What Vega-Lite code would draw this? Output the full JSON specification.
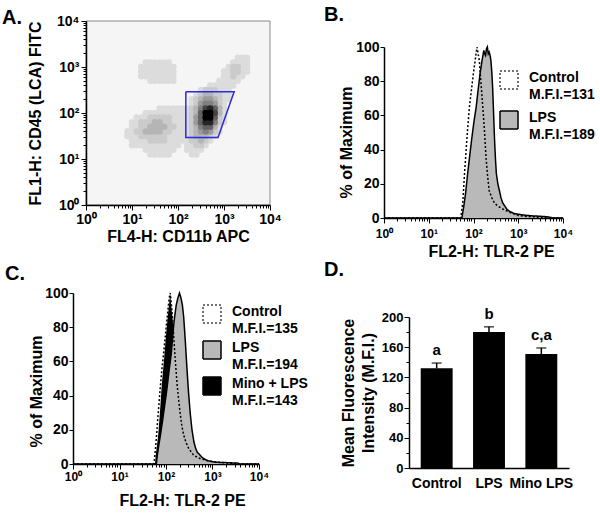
{
"$schema": "https://vega.github.io/schema/vega-lite/v6.json",
"background": "white",
"padding": {"left": 2, "top": 5, "right": 5, "bottom": 5},
"datasets": {
"frame": [{"u": 0, "v": 0, "u1": 4, "v1": 4}],
"dens": [
{"u":2.3,"v":1.1,"d":1},{"u":2.4,"v":1.1,"d":1},
{"u":2.2,"v":1.2,"d":1},{"u":2.3,"v":1.2,"d":1},{"u":2.4,"v":1.2,"d":1},{"u":2.5,"v":1.2,"d":1},
{"u":2.2,"v":1.3,"d":1},{"u":2.3,"v":1.3,"d":1},{"u":2.4,"v":1.3,"d":2},{"u":2.5,"v":1.3,"d":2},{"u":2.6,"v":1.3,"d":1},
{"u":2.2,"v":1.4,"d":1},{"u":2.3,"v":1.4,"d":2},{"u":2.4,"v":1.4,"d":2},{"u":2.5,"v":1.4,"d":3},{"u":2.6,"v":1.4,"d":2},{"u":2.7,"v":1.4,"d":1},
{"u":2.2,"v":1.5,"d":1},{"u":2.3,"v":1.5,"d":2},{"u":2.4,"v":1.5,"d":3},{"u":2.5,"v":1.5,"d":3},{"u":2.6,"v":1.5,"d":3},{"u":2.7,"v":1.5,"d":2},{"u":2.8,"v":1.5,"d":1},
{"u":2.2,"v":1.6,"d":1},{"u":2.3,"v":1.6,"d":2},{"u":2.4,"v":1.6,"d":3},{"u":2.5,"v":1.6,"d":4},{"u":2.6,"v":1.6,"d":5},{"u":2.7,"v":1.6,"d":4},{"u":2.8,"v":1.6,"d":2},{"u":2.9,"v":1.6,"d":1},
{"u":2.2,"v":1.7,"d":1},{"u":2.3,"v":1.7,"d":2},{"u":2.4,"v":1.7,"d":3},{"u":2.5,"v":1.7,"d":5},{"u":2.6,"v":1.7,"d":6},{"u":2.7,"v":1.7,"d":6},{"u":2.8,"v":1.7,"d":3},{"u":2.9,"v":1.7,"d":1},
{"u":2.2,"v":1.8,"d":1},{"u":2.3,"v":1.8,"d":2},{"u":2.4,"v":1.8,"d":4},{"u":2.5,"v":1.8,"d":6},{"u":2.6,"v":1.8,"d":8},{"u":2.7,"v":1.8,"d":8},{"u":2.8,"v":1.8,"d":5},{"u":2.9,"v":1.8,"d":2},{"u":3.0,"v":1.8,"d":1},
{"u":2.2,"v":1.9,"d":1},{"u":2.3,"v":1.9,"d":2},{"u":2.4,"v":1.9,"d":4},{"u":2.5,"v":1.9,"d":6},{"u":2.6,"v":1.9,"d":9},{"u":2.7,"v":1.9,"d":9},{"u":2.8,"v":1.9,"d":6},{"u":2.9,"v":1.9,"d":2},{"u":3.0,"v":1.9,"d":1},
{"u":2.2,"v":2.0,"d":1},{"u":2.3,"v":2.0,"d":2},{"u":2.4,"v":2.0,"d":3},{"u":2.5,"v":2.0,"d":6},{"u":2.6,"v":2.0,"d":9},{"u":2.7,"v":2.0,"d":9},{"u":2.8,"v":2.0,"d":7},{"u":2.9,"v":2.0,"d":3},{"u":3.0,"v":2.0,"d":1},
{"u":2.2,"v":2.1,"d":1},{"u":2.3,"v":2.1,"d":2},{"u":2.4,"v":2.1,"d":3},{"u":2.5,"v":2.1,"d":5},{"u":2.6,"v":2.1,"d":7},{"u":2.7,"v":2.1,"d":8},{"u":2.8,"v":2.1,"d":6},{"u":2.9,"v":2.1,"d":3},{"u":3.0,"v":2.1,"d":1},
{"u":2.3,"v":2.2,"d":1},{"u":2.4,"v":2.2,"d":2},{"u":2.5,"v":2.2,"d":4},{"u":2.6,"v":2.2,"d":5},{"u":2.7,"v":2.2,"d":5},{"u":2.8,"v":2.2,"d":4},{"u":2.9,"v":2.2,"d":2},{"u":3.0,"v":2.2,"d":1},
{"u":2.3,"v":2.3,"d":1},{"u":2.4,"v":2.3,"d":2},{"u":2.5,"v":2.3,"d":3},{"u":2.6,"v":2.3,"d":4},{"u":2.7,"v":2.3,"d":4},{"u":2.8,"v":2.3,"d":3},{"u":2.9,"v":2.3,"d":2},{"u":3.0,"v":2.3,"d":1},{"u":3.1,"v":2.3,"d":1},
{"u":2.4,"v":2.4,"d":1},{"u":2.5,"v":2.4,"d":2},{"u":2.6,"v":2.4,"d":3},{"u":2.7,"v":2.4,"d":3},{"u":2.8,"v":2.4,"d":2},{"u":2.9,"v":2.4,"d":2},{"u":3.0,"v":2.4,"d":1},{"u":3.1,"v":2.4,"d":1},
{"u":2.5,"v":2.5,"d":1},{"u":2.6,"v":2.5,"d":2},{"u":2.7,"v":2.5,"d":2},{"u":2.8,"v":2.5,"d":2},{"u":2.9,"v":2.5,"d":1},{"u":3.0,"v":2.5,"d":1},{"u":3.1,"v":2.5,"d":1},
{"u":2.7,"v":2.6,"d":1},{"u":2.8,"v":2.6,"d":1},{"u":2.9,"v":2.6,"d":1},{"u":3.0,"v":2.6,"d":1},{"u":3.1,"v":2.6,"d":1},{"u":3.2,"v":2.6,"d":1},
{"u":2.9,"v":2.7,"d":1},{"u":3.0,"v":2.7,"d":1},{"u":3.1,"v":2.7,"d":1},{"u":3.2,"v":2.7,"d":1},{"u":3.3,"v":2.7,"d":1},
{"u":3.0,"v":2.8,"d":1},{"u":3.1,"v":2.8,"d":1},{"u":3.2,"v":2.8,"d":2},{"u":3.3,"v":2.8,"d":1},{"u":3.4,"v":2.8,"d":1},
{"u":3.0,"v":2.9,"d":1},{"u":3.1,"v":2.9,"d":1},{"u":3.2,"v":2.9,"d":2},{"u":3.3,"v":2.9,"d":2},{"u":3.4,"v":2.9,"d":1},{"u":3.5,"v":2.9,"d":1},
{"u":3.1,"v":3.0,"d":1},{"u":3.2,"v":3.0,"d":2},{"u":3.3,"v":3.0,"d":2},{"u":3.4,"v":3.0,"d":1},{"u":3.5,"v":3.0,"d":1},
{"u":3.2,"v":3.1,"d":1},{"u":3.3,"v":3.1,"d":1},{"u":3.4,"v":3.1,"d":1},{"u":3.5,"v":3.1,"d":1},
{"u":3.3,"v":3.2,"d":1},{"u":3.4,"v":3.2,"d":1},{"u":3.5,"v":3.2,"d":1},
{"u":1.6,"v":2.1,"d":1},{"u":1.7,"v":2.1,"d":1},{"u":1.8,"v":2.1,"d":1},{"u":1.9,"v":2.1,"d":1},{"u":2.0,"v":2.1,"d":1},{"u":2.1,"v":2.1,"d":1},
{"u":1.3,"v":2.0,"d":1},{"u":1.4,"v":2.0,"d":1},{"u":1.5,"v":2.0,"d":1},{"u":1.6,"v":2.0,"d":1},{"u":1.7,"v":2.0,"d":1},{"u":1.8,"v":2.0,"d":1},{"u":1.9,"v":2.0,"d":1},{"u":2.0,"v":2.0,"d":1},{"u":2.1,"v":2.0,"d":1},
{"u":1.1,"v":1.9,"d":1},{"u":1.2,"v":1.9,"d":1},{"u":1.3,"v":1.9,"d":1},{"u":1.4,"v":1.9,"d":2},{"u":1.5,"v":1.9,"d":2},{"u":1.6,"v":1.9,"d":2},{"u":1.7,"v":1.9,"d":2},{"u":1.8,"v":1.9,"d":2},{"u":1.9,"v":1.9,"d":1},{"u":2.0,"v":1.9,"d":1},{"u":2.1,"v":1.9,"d":1},
{"u":1.0,"v":1.8,"d":1},{"u":1.1,"v":1.8,"d":1},{"u":1.2,"v":1.8,"d":2},{"u":1.3,"v":1.8,"d":2},{"u":1.4,"v":1.8,"d":2},{"u":1.5,"v":1.8,"d":3},{"u":1.6,"v":1.8,"d":3},{"u":1.7,"v":1.8,"d":2},{"u":1.8,"v":1.8,"d":2},{"u":1.9,"v":1.8,"d":1},{"u":2.0,"v":1.8,"d":1},{"u":2.1,"v":1.8,"d":1},
{"u":1.0,"v":1.7,"d":1},{"u":1.1,"v":1.7,"d":1},{"u":1.2,"v":1.7,"d":2},{"u":1.3,"v":1.7,"d":2},{"u":1.4,"v":1.7,"d":3},{"u":1.5,"v":1.7,"d":3},{"u":1.6,"v":1.7,"d":3},{"u":1.7,"v":1.7,"d":3},{"u":1.8,"v":1.7,"d":2},{"u":1.9,"v":1.7,"d":2},{"u":2.0,"v":1.7,"d":1},{"u":2.1,"v":1.7,"d":1},
{"u":0.9,"v":1.6,"d":1},{"u":1.0,"v":1.6,"d":1},{"u":1.1,"v":1.6,"d":2},{"u":1.2,"v":1.6,"d":2},{"u":1.3,"v":1.6,"d":3},{"u":1.4,"v":1.6,"d":3},{"u":1.5,"v":1.6,"d":3},{"u":1.6,"v":1.6,"d":3},{"u":1.7,"v":1.6,"d":2},{"u":1.8,"v":1.6,"d":2},{"u":1.9,"v":1.6,"d":1},{"u":2.0,"v":1.6,"d":1},{"u":2.1,"v":1.6,"d":1},
{"u":0.9,"v":1.5,"d":1},{"u":1.0,"v":1.5,"d":1},{"u":1.1,"v":1.5,"d":1},{"u":1.2,"v":1.5,"d":2},{"u":1.3,"v":1.5,"d":2},{"u":1.4,"v":1.5,"d":2},{"u":1.5,"v":1.5,"d":2},{"u":1.6,"v":1.5,"d":2},{"u":1.7,"v":1.5,"d":2},{"u":1.8,"v":1.5,"d":1},{"u":1.9,"v":1.5,"d":1},{"u":2.0,"v":1.5,"d":1},{"u":2.1,"v":1.5,"d":1},
{"u":1.0,"v":1.4,"d":1},{"u":1.1,"v":1.4,"d":1},{"u":1.2,"v":1.4,"d":1},{"u":1.3,"v":1.4,"d":1},{"u":1.4,"v":1.4,"d":2},{"u":1.5,"v":1.4,"d":2},{"u":1.6,"v":1.4,"d":2},{"u":1.7,"v":1.4,"d":2},{"u":1.8,"v":1.4,"d":1},{"u":1.9,"v":1.4,"d":1},{"u":2.0,"v":1.4,"d":1},{"u":2.1,"v":1.4,"d":1},
{"u":1.0,"v":1.3,"d":1},{"u":1.1,"v":1.3,"d":1},{"u":1.2,"v":1.3,"d":1},{"u":1.3,"v":1.3,"d":1},{"u":1.4,"v":1.3,"d":1},{"u":1.5,"v":1.3,"d":1},{"u":1.6,"v":1.3,"d":1},{"u":1.7,"v":1.3,"d":1},{"u":1.8,"v":1.3,"d":1},{"u":1.9,"v":1.3,"d":1},{"u":2.0,"v":1.3,"d":1},
{"u":1.3,"v":1.2,"d":1},{"u":1.4,"v":1.2,"d":1},{"u":1.5,"v":1.2,"d":1},{"u":1.6,"v":1.2,"d":1},{"u":1.7,"v":1.2,"d":1},{"u":1.8,"v":1.2,"d":1},{"u":1.9,"v":1.2,"d":1},
{"u":1.4,"v":1.1,"d":1},{"u":1.5,"v":1.1,"d":1},{"u":1.6,"v":1.1,"d":1},{"u":1.7,"v":1.1,"d":1},{"u":1.8,"v":1.1,"d":1},
{"u":1.3,"v":3.1,"d":1},{"u":1.4,"v":3.1,"d":1},{"u":1.5,"v":3.1,"d":1},{"u":1.6,"v":3.1,"d":1},{"u":1.7,"v":3.1,"d":1},{"u":1.8,"v":3.1,"d":1},
{"u":1.2,"v":3.0,"d":1},{"u":1.3,"v":3.0,"d":1},{"u":1.4,"v":3.0,"d":1},{"u":1.5,"v":3.0,"d":1},{"u":1.6,"v":3.0,"d":1},{"u":1.7,"v":3.0,"d":1},{"u":1.8,"v":3.0,"d":1},{"u":1.9,"v":3.0,"d":1},
{"u":1.2,"v":2.9,"d":1},{"u":1.3,"v":2.9,"d":1},{"u":1.4,"v":2.9,"d":1},{"u":1.5,"v":2.9,"d":1},{"u":1.6,"v":2.9,"d":1},{"u":1.7,"v":2.9,"d":1},{"u":1.8,"v":2.9,"d":1},{"u":1.9,"v":2.9,"d":1},
{"u":1.2,"v":2.8,"d":1},{"u":1.3,"v":2.8,"d":1},{"u":1.4,"v":2.8,"d":1},{"u":1.5,"v":2.8,"d":1},{"u":1.6,"v":2.8,"d":1},{"u":1.7,"v":2.8,"d":1},{"u":1.8,"v":2.8,"d":1},{"u":1.9,"v":2.8,"d":1},
{"u":1.4,"v":2.7,"d":1},{"u":1.5,"v":2.7,"d":1},{"u":1.6,"v":2.7,"d":1},{"u":1.7,"v":2.7,"d":1},{"u":1.8,"v":2.7,"d":1},{"u":1.9,"v":2.7,"d":1}
],
"gate": [
{"u":2.17,"v":2.46,"o":1},{"u":3.22,"v":2.46,"o":2},{"u":2.87,"v":1.47,"o":3},{"u":2.17,"v":1.47,"o":4},{"u":2.17,"v":2.46,"o":5}
],
"histB": [
{"s":"LPS","x":1,"y":0},{"s":"LPS","x":55,"y":0},{"s":"LPS","x":60,"y":6},{"s":"LPS","x":67,"y":15},{"s":"LPS","x":74,"y":26},{"s":"LPS","x":82,"y":36},{"s":"LPS","x":91,"y":46},{"s":"LPS","x":102,"y":56},{"s":"LPS","x":115,"y":65},{"s":"LPS","x":127,"y":75},{"s":"LPS","x":141,"y":85},{"s":"LPS","x":155,"y":92},{"s":"LPS","x":170,"y":98},{"s":"LPS","x":178,"y":96},{"s":"LPS","x":186,"y":95},{"s":"LPS","x":195,"y":99},{"s":"LPS","x":204,"y":100},{"s":"LPS","x":214,"y":96},{"s":"LPS","x":224,"y":97},{"s":"LPS","x":235,"y":95},{"s":"LPS","x":245,"y":92},{"s":"LPS","x":257,"y":85},{"s":"LPS","x":269,"y":75},{"s":"LPS","x":282,"y":60},{"s":"LPS","x":295,"y":46},{"s":"LPS","x":309,"y":35},{"s":"LPS","x":324,"y":26},{"s":"LPS","x":350,"y":20},{"s":"LPS","x":380,"y":16},{"s":"LPS","x":410,"y":12},{"s":"LPS","x":447,"y":9},{"s":"LPS","x":500,"y":7},{"s":"LPS","x":562,"y":5},{"s":"LPS","x":650,"y":3.8},{"s":"LPS","x":794,"y":2.7},{"s":"LPS","x":1000,"y":2.2},{"s":"LPS","x":1300,"y":1.8},{"s":"LPS","x":1585,"y":1.5},{"s":"LPS","x":2200,"y":1.2},{"s":"LPS","x":3162,"y":1},{"s":"LPS","x":4000,"y":0.8},{"s":"LPS","x":5012,"y":0.5},{"s":"LPS","x":6000,"y":0},{"s":"LPS","x":10000,"y":0},
{"s":"Control","x":1,"y":0},{"s":"Control","x":52,"y":0},{"s":"Control","x":58,"y":10},{"s":"Control","x":63,"y":26},{"s":"Control","x":67,"y":36},{"s":"Control","x":71,"y":46},{"s":"Control","x":76,"y":56},{"s":"Control","x":81,"y":65},{"s":"Control","x":90,"y":75},{"s":"Control","x":100,"y":85},{"s":"Control","x":110,"y":93},{"s":"Control","x":115,"y":97},{"s":"Control","x":120,"y":100},{"s":"Control","x":127,"y":96},{"s":"Control","x":135,"y":92},{"s":"Control","x":142,"y":84},{"s":"Control","x":151,"y":75},{"s":"Control","x":162,"y":64},{"s":"Control","x":174,"y":53},{"s":"Control","x":182,"y":44},{"s":"Control","x":191,"y":35},{"s":"Control","x":206,"y":25},{"s":"Control","x":224,"y":16},{"s":"Control","x":255,"y":12},{"s":"Control","x":295,"y":8.6},{"s":"Control","x":350,"y":7},{"s":"Control","x":417,"y":5.7},{"s":"Control","x":490,"y":4.8},{"s":"Control","x":562,"y":4},{"s":"Control","x":660,"y":3.2},{"s":"Control","x":794,"y":2.5},{"s":"Control","x":1000,"y":1.5},{"s":"Control","x":1400,"y":1},{"s":"Control","x":1995,"y":0.7},{"s":"Control","x":2800,"y":0.5},{"s":"Control","x":3981,"y":0.3},{"s":"Control","x":5000,"y":0},{"s":"Control","x":10000,"y":0}
],
"histC": [
{"s":"Mino + LPS","x":1,"y":0},{"s":"Mino + LPS","x":58,"y":0},{"s":"Mino + LPS","x":60,"y":5},{"s":"Mino + LPS","x":64,"y":11},{"s":"Mino + LPS","x":68,"y":17},{"s":"Mino + LPS","x":74,"y":30},{"s":"Mino + LPS","x":81,"y":46},{"s":"Mino + LPS","x":90,"y":60},{"s":"Mino + LPS","x":100,"y":75},{"s":"Mino + LPS","x":108,"y":85},{"s":"Mino + LPS","x":115,"y":92},{"s":"Mino + LPS","x":120,"y":97},{"s":"Mino + LPS","x":123,"y":100},{"s":"Mino + LPS","x":128,"y":94},{"s":"Mino + LPS","x":135,"y":88},{"s":"Mino + LPS","x":146,"y":78},{"s":"Mino + LPS","x":158,"y":60},{"s":"Mino + LPS","x":168,"y":47},{"s":"Mino + LPS","x":178,"y":35},{"s":"Mino + LPS","x":200,"y":22},{"s":"Mino + LPS","x":224,"y":15},{"s":"Mino + LPS","x":270,"y":9},{"s":"Mino + LPS","x":316,"y":5},{"s":"Mino + LPS","x":400,"y":3},{"s":"Mino + LPS","x":501,"y":2},{"s":"Mino + LPS","x":700,"y":1},{"s":"Mino + LPS","x":1000,"y":0.5},{"s":"Mino + LPS","x":2000,"y":0.2},{"s":"Mino + LPS","x":3162,"y":0},{"s":"Mino + LPS","x":10000,"y":0},
{"s":"LPS","x":1,"y":0},{"s":"LPS","x":62,"y":0},{"s":"LPS","x":65,"y":5},{"s":"LPS","x":70,"y":11},{"s":"LPS","x":76,"y":17},{"s":"LPS","x":82,"y":23},{"s":"LPS","x":89,"y":30},{"s":"LPS","x":98,"y":38},{"s":"LPS","x":107,"y":46},{"s":"LPS","x":117,"y":55},{"s":"LPS","x":129,"y":64},{"s":"LPS","x":137,"y":72},{"s":"LPS","x":146,"y":81},{"s":"LPS","x":155,"y":87},{"s":"LPS","x":166,"y":93},{"s":"LPS","x":180,"y":97},{"s":"LPS","x":195,"y":100},{"s":"LPS","x":210,"y":97},{"s":"LPS","x":225,"y":93},{"s":"LPS","x":240,"y":86},{"s":"LPS","x":260,"y":72},{"s":"LPS","x":282,"y":56},{"s":"LPS","x":305,"y":42},{"s":"LPS","x":331,"y":30},{"s":"LPS","x":362,"y":20},{"s":"LPS","x":398,"y":13},{"s":"LPS","x":430,"y":9.5},{"s":"LPS","x":468,"y":7},{"s":"LPS","x":525,"y":5.5},{"s":"LPS","x":589,"y":4},{"s":"LPS","x":670,"y":3},{"s":"LPS","x":759,"y":2},{"s":"LPS","x":1000,"y":1.3},{"s":"LPS","x":1259,"y":1},{"s":"LPS","x":1600,"y":0.9},{"s":"LPS","x":1995,"y":0.8},{"s":"LPS","x":2800,"y":0.6},{"s":"LPS","x":3548,"y":0.5},{"s":"LPS","x":3800,"y":0},{"s":"LPS","x":10000,"y":0},
{"s":"Control","x":1,"y":0},{"s":"Control","x":55,"y":0},{"s":"Control","x":58,"y":6},{"s":"Control","x":62,"y":15},{"s":"Control","x":66,"y":25},{"s":"Control","x":71,"y":36},{"s":"Control","x":76,"y":46},{"s":"Control","x":82,"y":56},{"s":"Control","x":89,"y":65},{"s":"Control","x":97,"y":75},{"s":"Control","x":105,"y":85},{"s":"Control","x":110,"y":90},{"s":"Control","x":115,"y":95},{"s":"Control","x":119,"y":98},{"s":"Control","x":123,"y":100},{"s":"Control","x":127,"y":97},{"s":"Control","x":132,"y":92},{"s":"Control","x":139,"y":84},{"s":"Control","x":146,"y":75},{"s":"Control","x":158,"y":61},{"s":"Control","x":174,"y":46},{"s":"Control","x":188,"y":37},{"s":"Control","x":204,"y":28.5},{"s":"Control","x":220,"y":22},{"s":"Control","x":240,"y":17},{"s":"Control","x":270,"y":12.5},{"s":"Control","x":309,"y":9},{"s":"Control","x":350,"y":7},{"s":"Control","x":398,"y":5},{"s":"Control","x":470,"y":4},{"s":"Control","x":562,"y":3},{"s":"Control","x":794,"y":2},{"s":"Control","x":1259,"y":1},{"s":"Control","x":2512,"y":0.5},{"s":"Control","x":3500,"y":0},{"s":"Control","x":10000,"y":0}
],
"bars": [
{"g":"Control","m":132,"hi":139},
{"g":"LPS","m":180,"hi":187},
{"g":"Mino LPS","m":151,"hi":159}
],
"caps": [
{"g":"Control","m":139,"t":"a"},
{"g":"LPS","m":187,"t":"b"},
{"g":"Mino LPS","m":159,"t":"c,a"}
]
},
"vconcat": [
{
"hconcat": [
{
"title": {"text": "A.", "frame": "group", "dx": -71, "offset": -14},
"width": 197, "height": 184,
"encoding": {
"x": {"field": "u", "type": "quantitative", "scale": {"domain": [0, 4], "range": [13, 197], "nice": false, "zero": false},
"axis": {"title": "FL4-H: CD11b APC", "zindex": 1, "values": [0,0.301,0.477,0.602,0.699,0.778,0.845,0.903,0.954,1,1.301,1.477,1.602,1.699,1.778,1.845,1.903,1.954,2,2.301,2.477,2.602,2.699,2.778,2.845,2.903,2.954,3,3.301,3.477,3.602,3.699,3.778,3.845,3.903,3.954,4],
"labelExpr": "abs(datum.value - round(datum.value)) < 0.001 ? '10' + ['⁰','¹','²','³','⁴'][round(datum.value)] : ''",
"tickSize": {"condition": {"test": "abs(datum.value - round(datum.value)) < 0.001", "value": 5}, "value": 3},
"labelFlush": false, "labelPadding": 2, "titlePadding": 2}},
"y": {"field": "v", "type": "quantitative", "scale": {"domain": [0, 4], "nice": false, "zero": false},
"axis": {"title": "FL1-H: CD45 (LCA) FITC", "zindex": 1, "offset": -13, "values": [0,0.301,0.477,0.602,0.699,0.778,0.845,0.903,0.954,1,1.301,1.477,1.602,1.699,1.778,1.845,1.903,1.954,2,2.301,2.477,2.602,2.699,2.778,2.845,2.903,2.954,3,3.301,3.477,3.602,3.699,3.778,3.845,3.903,3.954,4],
"labelExpr": "abs(datum.value - round(datum.value)) < 0.001 ? '10' + ['⁰','¹','²','³','⁴'][round(datum.value)] : ''",
"tickSize": {"condition": {"test": "abs(datum.value - round(datum.value)) < 0.001", "value": 5}, "value": 3},
"labelFlush": false, "titlePadding": 13}}
},
"layer": [
{
"data": {"name": "frame"},
"mark": {"type": "rect", "fill": "#f5f5f5", "stroke": "#8a8a8a", "strokeWidth": 1},
"encoding": {"x2": {"field": "u1"}, "y2": {"field": "v1"}}
},
{
"data": {"name": "dens"},
"mark": {"type": "circle", "size": 42, "opacity": 1},
"encoding": {
"color": {"field": "d", "type": "quantitative", "scale": {"type": "pow", "exponent": 1.5, "domain": [1, 9], "range": ["#dcdcdc", "#000000"]}, "legend": null},
"order": {"field": "d", "type": "quantitative"}
}
},
{
"data": {"name": "gate"},
"mark": {"type": "line", "color": "#2a2ae0", "strokeWidth": 1.5},
"encoding": {"order": {"field": "o", "type": "quantitative"}}
}
]
},
{
"title": {"text": "B.", "frame": "group", "dx": -60, "offset": -4},
"width": 179, "height": 197,
"data": {"name": "histB"},
"encoding": {
"x": {"field": "x", "type": "quantitative", "scale": {"type": "log", "domain": [1, 10000], "nice": false},
"axis": {"title": "FL2-H: TLR-2 PE", "titleX": 107, "labelFontSize": 12, "values": [1,2,3,4,5,6,7,8,9,10,20,30,40,50,60,70,80,90,100,200,300,400,500,600,700,800,900,1000,2000,3000,4000,5000,6000,7000,8000,9000,10000],
"labelExpr": "abs(log(datum.value)/LN10 - round(log(datum.value)/LN10)) < 0.001 ? '10' + ['⁰','¹','²','³','⁴'][round(log(datum.value)/LN10)] : ''",
"tickSize": {"condition": {"test": "abs(log(datum.value)/LN10 - round(log(datum.value)/LN10)) < 0.001", "value": 5}, "value": 3},
"labelFlush": false, "labelPadding": 5, "titlePadding": 4}},
"y": {"field": "y", "type": "quantitative", "scale": {"domain": [0, 100], "range": [197, 26], "nice": false},
"axis": {"title": "% of Maximum", "titleY": 121, "values": [0,20,40,60,80,100], "tickSize": 4, "labelPadding": 1, "titlePadding": 1}}
},
"layer": [
{"transform": [{"filter": "datum.s === 'LPS'"}], "mark": {"type": "area"},
"encoding": {"fill": {"field": "s", "type": "nominal", "scale": {"domain": ["Control", "LPS"], "range": ["transparent", "#b9b9b9"]},
"legend": {"orient": "none", "legendX": 115, "legendY": 49, "title": null, "symbolType": "square", "symbolSize": 324, "symbolStrokeWidth": 1.5, "labelOffset": 10, "rowPadding": 6, "labelBaseline": "alphabetic", "encode": {"labels": {"update": {"lineHeight": {"value": 17}, "dy": {"value": 2}}}}, "labelExpr": "datum.label === 'Control' ? ['Control','M.F.I.=131'] : ['LPS','M.F.I.=189']"}}}},
{"transform": [{"filter": "datum.s === 'LPS'"}], "mark": {"type": "line", "strokeWidth": 1.5},
"encoding": {
"stroke": {"field": "s", "type": "nominal", "scale": {"domain": ["Control", "LPS"], "range": ["#444444", "#000000"]},
"legend": {"orient": "none", "legendX": 115, "legendY": 49, "title": null, "symbolType": "square", "symbolSize": 324, "symbolStrokeWidth": 1.5, "labelOffset": 10, "rowPadding": 6, "labelBaseline": "alphabetic", "encode": {"labels": {"update": {"lineHeight": {"value": 17}, "dy": {"value": 2}}}}, "labelExpr": "datum.label === 'Control' ? ['Control','M.F.I.=131'] : ['LPS','M.F.I.=189']"}},
"strokeDash": {"field": "s", "type": "nominal", "scale": {"domain": ["Control", "LPS"], "range": [[2, 2], [1, 0]]},
"legend": {"orient": "none", "legendX": 115, "legendY": 49, "title": null, "symbolType": "square", "symbolSize": 324, "symbolStrokeWidth": 1.5, "labelOffset": 10, "rowPadding": 6, "labelBaseline": "alphabetic", "encode": {"labels": {"update": {"lineHeight": {"value": 17}, "dy": {"value": 2}}}}, "labelExpr": "datum.label === 'Control' ? ['Control','M.F.I.=131'] : ['LPS','M.F.I.=189']"}}}},
{"transform": [{"filter": "datum.s === 'Control'"}], "mark": {"type": "line", "strokeWidth": 1.5, "color": "#000000", "strokeDash": [2, 2]}}
]
}
],
"spacing": 42,
"resolve": {"scale": {"color": "independent", "fill": "independent", "stroke": "independent", "strokeDash": "independent"}, "legend": {"color": "independent", "fill": "independent", "stroke": "independent", "strokeDash": "independent"}}
},
{
"hconcat": [
{
"title": {"text": "C.", "frame": "group", "dx": -68, "offset": 2},
"width": 186, "height": 171,
"data": {"name": "histC"},
"encoding": {
"x": {"field": "x", "type": "quantitative", "scale": {"type": "log", "domain": [1, 10000], "nice": false},
"axis": {"title": "FL2-H: TLR-2 PE", "titleX": 109, "labelFontSize": 12, "values": [1,2,3,4,5,6,7,8,9,10,20,30,40,50,60,70,80,90,100,200,300,400,500,600,700,800,900,1000,2000,3000,4000,5000,6000,7000,8000,9000,10000],
"labelExpr": "abs(log(datum.value)/LN10 - round(log(datum.value)/LN10)) < 0.001 ? '10' + ['⁰','¹','²','³','⁴'][round(log(datum.value)/LN10)] : ''",
"tickSize": {"condition": {"test": "abs(log(datum.value)/LN10 - round(log(datum.value)/LN10)) < 0.001", "value": 5}, "value": 3},
"labelFlush": false, "labelPadding": 2, "titlePadding": 10}},
"y": {"field": "y", "type": "quantitative", "scale": {"domain": [0, 100], "nice": false},
"axis": {"title": "% of Maximum", "titleY": 98, "values": [0,20,40,60,80,100], "tickSize": 4, "labelPadding": 1, "titlePadding": 0}}
},
"layer": [
{"transform": [{"filter": "datum.s === 'Mino + LPS'"}], "mark": {"type": "area"},
"encoding": {"fill": {"field": "s", "type": "nominal", "scale": {"domain": ["Control", "LPS", "Mino + LPS"], "range": ["transparent", "#b9b9b9", "#000000"]},
"legend": {"orient": "none", "legendX": 129, "legendY": 11, "title": null, "symbolType": "square", "symbolSize": 324, "symbolStrokeWidth": 1.5, "labelOffset": 10, "rowPadding": 2, "labelBaseline": "alphabetic", "encode": {"labels": {"update": {"lineHeight": {"value": 17}, "dy": {"value": 2}}}}, "labelExpr": "datum.label === 'Control' ? ['Control','M.F.I.=135'] : datum.label === 'LPS' ? ['LPS','M.F.I.=194'] : ['Mino + LPS','M.F.I.=143']"}}}},
{"transform": [{"filter": "datum.s === 'LPS'"}], "mark": {"type": "area"},
"encoding": {"fill": {"field": "s", "type": "nominal", "scale": {"domain": ["Control", "LPS", "Mino + LPS"], "range": ["transparent", "#b9b9b9", "#000000"]},
"legend": {"orient": "none", "legendX": 129, "legendY": 11, "title": null, "symbolType": "square", "symbolSize": 324, "symbolStrokeWidth": 1.5, "labelOffset": 10, "rowPadding": 2, "labelBaseline": "alphabetic", "encode": {"labels": {"update": {"lineHeight": {"value": 17}, "dy": {"value": 2}}}}, "labelExpr": "datum.label === 'Control' ? ['Control','M.F.I.=135'] : datum.label === 'LPS' ? ['LPS','M.F.I.=194'] : ['Mino + LPS','M.F.I.=143']"}}}},
{"transform": [{"filter": "datum.s === 'LPS'"}], "mark": {"type": "line", "strokeWidth": 1.5},
"encoding": {
"stroke": {"field": "s", "type": "nominal", "scale": {"domain": ["Control", "LPS", "Mino + LPS"], "range": ["#444444", "#000000", "#000000"]},
"legend": {"orient": "none", "legendX": 129, "legendY": 11, "title": null, "symbolType": "square", "symbolSize": 324, "symbolStrokeWidth": 1.5, "labelOffset": 10, "rowPadding": 2, "labelBaseline": "alphabetic", "encode": {"labels": {"update": {"lineHeight": {"value": 17}, "dy": {"value": 2}}}}, "labelExpr": "datum.label === 'Control' ? ['Control','M.F.I.=135'] : datum.label === 'LPS' ? ['LPS','M.F.I.=194'] : ['Mino + LPS','M.F.I.=143']"}},
"strokeDash": {"field": "s", "type": "nominal", "scale": {"domain": ["Control", "LPS", "Mino + LPS"], "range": [[2, 2], [1, 0], [1, 0]]},
"legend": {"orient": "none", "legendX": 129, "legendY": 11, "title": null, "symbolType": "square", "symbolSize": 324, "symbolStrokeWidth": 1.5, "labelOffset": 10, "rowPadding": 2, "labelBaseline": "alphabetic", "encode": {"labels": {"update": {"lineHeight": {"value": 17}, "dy": {"value": 2}}}}, "labelExpr": "datum.label === 'Control' ? ['Control','M.F.I.=135'] : datum.label === 'LPS' ? ['LPS','M.F.I.=194'] : ['Mino + LPS','M.F.I.=143']"}}}},
{"transform": [{"filter": "datum.s === 'Control'"}], "mark": {"type": "line", "strokeWidth": 1.5, "color": "#000000", "strokeDash": [2, 2]}}
]
},
{
"title": {"text": "D.", "frame": "group", "dx": -85, "offset": 13},
"width": 160, "height": 175,
"encoding": {
"x": {"field": "g", "type": "nominal", "sort": null, "scale": {"paddingInner": 0.39, "paddingOuter": 0.224},
"axis": {"title": null, "labelAngle": 0, "ticks": false, "labelPadding": 8}},
"y": {"field": "m", "type": "quantitative", "scale": {"domain": [0, 200], "range": [175, 24], "nice": false},
"axis": {"title": ["Mean Fluorescence", "Intensity (M.F.I.)"], "labelFontSize": 13, "values": [0,20,40,60,80,100,120,140,160,180,200],
"labelExpr": "datum.value % 40 === 0 ? datum.label : ''",
"tickSize": {"condition": {"test": "datum.value % 40 === 0", "value": 5}, "value": 3},
"titleLineHeight": 20, "titlePadding": 5, "labelPadding": 1}}
},
"layer": [
{"data": {"name": "bars"}, "mark": {"type": "bar", "color": "black"}},
{"data": {"name": "bars"}, "mark": {"type": "rule", "color": "black", "strokeWidth": 1.5}, "encoding": {"y2": {"field": "hi"}}},
{"data": {"name": "caps"}, "mark": {"type": "tick", "color": "black", "thickness": 1.5, "size": 10}},
{"data": {"name": "caps"}, "mark": {"type": "text", "baseline": "bottom", "dy": -5, "fontSize": 15, "fontWeight": "bold", "font": "Liberation Sans", "color": "black"}, "encoding": {"text": {"field": "t"}}}
]
}
],
"spacing": 16,
"resolve": {"scale": {"color": "independent", "fill": "independent", "stroke": "independent", "strokeDash": "independent"}, "legend": {"color": "independent", "fill": "independent", "stroke": "independent", "strokeDash": "independent"}}
}
],
"spacing": 1,
"resolve": {"scale": {"color": "independent", "fill": "independent", "stroke": "independent", "strokeDash": "independent"}, "legend": {"color": "independent", "fill": "independent", "stroke": "independent", "strokeDash": "independent"}},
"config": {
"font": "Liberation Sans",
"view": {"stroke": null},
"axis": {"labelFont": "Liberation Sans", "labelFontSize": 14, "labelFontWeight": "bold", "labelColor": "black", "titleFont": "Liberation Sans", "titleFontSize": 16, "titleFontWeight": "bold", "titleColor": "black", "domainColor": "black", "domainWidth": 1.5, "tickColor": "black", "grid": false, "labelOverlap": false},
"legend": {"labelFont": "Liberation Sans", "labelFontSize": 14, "labelFontWeight": "bold", "labelColor": "black", "padding": 0},
"title": {"anchor": "start", "frame": "bounds", "fontSize": 20, "fontWeight": "bold", "font": "Liberation Sans", "color": "black"}
}
}
